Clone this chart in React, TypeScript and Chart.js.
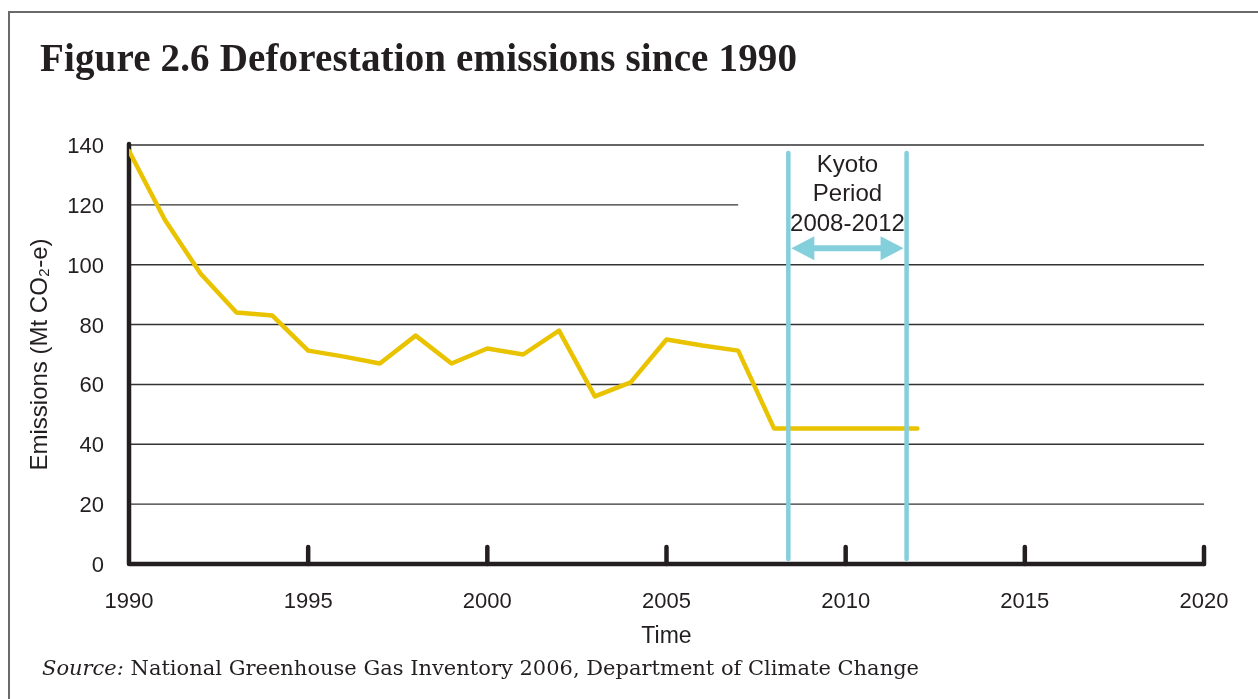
import React, { useEffect, useRef } from 'react';
import { Chart, registerables } from 'chart.js';

Chart.register(...registerables);

// ---- data ----
const years = [1990, 1991, 1992, 1993, 1994, 1995, 1996, 1997, 1998, 1999, 2000, 2001, 2002, 2003, 2004, 2005, 2006, 2007, 2008, 2009, 2010, 2011, 2012];
const emissions = [138, 115, 97, 84, 83, 71.3, 69.3, 67, 76.3, 67, 72, 70, 78, 56, 60.7, 75, 73, 71.3, 45.3, 45.3, 45.3, 45.3, 45.3];
const xMin = 1990;
const xMax = 2020;
const xStep = 5;
const yMin = 0;
const yMax = 140;
const yStep = 20;
const kyotoStart = 2008.4;
const kyotoEnd = 2011.7;
const kyotoArrowValue = 105.5;
const kyotoText = ['Kyoto', 'Period', '2008-2012'];
const shortGridValue = 120;
const shortGridEndYear = 2007;

const titleText = 'Figure 2.6 Deforestation emissions since 1990';
const yTitle = 'Emissions (Mt CO\u2082-e)';
const xTitle = 'Time';
const sourceLabel = 'Source:';
const sourceText = ' National Greenhouse Gas Inventory 2006, Department of Climate Change';

const INK = '#231f20';
const YELLOW = '#eac300';
const CYAN = '#84cfdc';
const SANS = '"Liberation Sans", Arial, sans-serif';

const decor = {
  id: 'decor',
  beforeDatasetsDraw(chart: any) {
    const { ctx, scales } = chart;
    const x = scales.x;
    const y = scales.y;
    ctx.save();
    ctx.strokeStyle = '#333333';
    ctx.lineWidth = 1.4;
    for (let v = yMin + yStep; v <= yMax; v += yStep) {
      const py = y.getPixelForValue(v);
      const xEnd = v === shortGridValue ? x.getPixelForValue(shortGridEndYear) : x.right;
      ctx.beginPath();
      ctx.moveTo(x.left, py);
      ctx.lineTo(xEnd, py);
      ctx.stroke();
    }
    ctx.strokeStyle = INK;
    ctx.lineWidth = 4.5;
    ctx.lineCap = 'round';
    ctx.lineJoin = 'round';
    const x0 = x.left;
    const y0 = y.getPixelForValue(yMin);
    ctx.beginPath();
    ctx.moveTo(x0, y.getPixelForValue(yMax) - 1);
    ctx.lineTo(x0, y0);
    ctx.lineTo(x.getPixelForValue(xMax), y0);
    ctx.stroke();
    for (let v = xMin + xStep; v <= xMax; v += xStep) {
      const px = x.getPixelForValue(v);
      ctx.beginPath();
      ctx.moveTo(px, y0);
      ctx.lineTo(px, y0 - 17);
      ctx.stroke();
    }
    ctx.restore();
  },
  afterDatasetsDraw(chart: any) {
    const { ctx, scales } = chart;
    const x = scales.x;
    const y = scales.y;
    const xa = x.getPixelForValue(kyotoStart);
    const xb = x.getPixelForValue(kyotoEnd);
    const top = y.getPixelForValue(yMax) + 8;
    const bottom = y.getPixelForValue(yMin) - 5;
    ctx.save();
    ctx.strokeStyle = CYAN;
    ctx.lineWidth = 4.5;
    ctx.lineCap = 'round';
    [xa, xb].forEach((px) => {
      ctx.beginPath();
      ctx.moveTo(px, top);
      ctx.lineTo(px, bottom);
      ctx.stroke();
    });
    ctx.lineCap = 'butt';
    // arrow
    const ay = y.getPixelForValue(kyotoArrowValue);
    const l = xa + 3;
    const r = xb - 3;
    const hl = 23;
    const hh = 12;
    ctx.fillStyle = CYAN;
    ctx.fillRect(l + hl - 1, ay - 3, r - l - 2 * hl + 2, 6);
    ctx.beginPath();
    ctx.moveTo(l, ay);
    ctx.lineTo(l + hl, ay - hh);
    ctx.lineTo(l + hl, ay + hh);
    ctx.closePath();
    ctx.fill();
    ctx.beginPath();
    ctx.moveTo(r, ay);
    ctx.lineTo(r - hl, ay - hh);
    ctx.lineTo(r - hl, ay + hh);
    ctx.closePath();
    ctx.fill();
    // label
    ctx.fillStyle = INK;
    ctx.font = '24px ' + SANS;
    ctx.textAlign = 'center';
    ctx.textBaseline = 'middle';
    const cx = (xa + xb) / 2;
    const t0 = y.getPixelForValue(yMax);
    kyotoText.forEach((s, i) => {
      ctx.fillText(s, cx, t0 + 20 + i * 29.5);
    });
    ctx.restore();
  },
};

function ChartCanvas() {
  const ref = useRef<HTMLCanvasElement | null>(null);
  useEffect(() => {
    if (!ref.current) return;
    const points = years.map((yr, i) => ({ x: yr, y: emissions[i] }));
    const chart = new Chart(ref.current, {
      type: 'line',
      data: {
        datasets: [
          {
            label: 'Emissions',
            data: points,
            borderColor: YELLOW,
            backgroundColor: YELLOW,
            borderWidth: 4.5,
            pointRadius: 0,
            tension: 0,
            borderCapStyle: 'round',
            borderJoinStyle: 'round',
            fill: false,
          },
        ],
      },
      options: {
        animation: false,
        responsive: false,
        maintainAspectRatio: false,
        layout: { padding: { left: 0, top: 145, right: 54, bottom: 49 } },
        plugins: {
          legend: { display: false },
          tooltip: { enabled: false },
          title: { display: false },
        },
        scales: {
          x: {
            type: 'linear',
            min: xMin,
            max: xMax,
            grid: { display: false, drawTicks: false },
            border: { display: false },
            ticks: {
              stepSize: xStep,
              autoSkip: false,
              maxRotation: 0,
              padding: 25,
              color: INK,
              font: { family: SANS, size: 22 },
              callback: (v: any) => String(v),
            },
            title: {
              display: true,
              text: xTitle,
              color: INK,
              font: { family: SANS, size: 23 },
              padding: { top: 0, bottom: 0 },
            },
            afterFit: (s: any) => {
              s.height = 86;
            },
          },
          y: {
            type: 'linear',
            min: yMin,
            max: yMax,
            grid: { display: false, drawTicks: false },
            border: { display: false },
            ticks: {
              stepSize: yStep,
              padding: 25,
              labelOffset: 2,
              color: INK,
              font: { family: SANS, size: 22 },
            },
            title: {
              display: true,
              text: yTitle,
              color: INK,
              font: { family: SANS, size: 24 },
              padding: { top: 26, bottom: 0 },
            },
            afterFit: (s: any) => {
              s.width = 129;
            },
          },
        },
      },
      plugins: [decor],
    });
    return () => chart.destroy();
  }, []);
  return <canvas ref={ref} width={1258} height={699} style={{ position: 'absolute', left: 0, top: 0, display: 'block' }} />;
}

export default function App() {
  return (
    <div style={{ position: 'fixed', left: 0, top: 0, width: 1258, height: 699, background: '#ffffff', overflow: 'hidden' }}>
      <div style={{ position: 'absolute', left: 8, top: 11, width: 1300, height: 800, borderLeft: '2px solid #6a6a6a', borderTop: '2px solid #6a6a6a' }} />
      <ChartCanvas />
      <div
        style={{
          position: 'absolute',
          left: 40,
          top: 38,
          fontFamily: '"Liberation Serif", "Times New Roman", serif',
          fontWeight: 'bold',
          fontSize: 39,
          lineHeight: '39px',
          letterSpacing: '0.15px',
          color: INK,
          whiteSpace: 'nowrap',
        }}
      >
        {titleText}
      </div>
      <div
        style={{
          position: 'absolute',
          left: 42,
          top: 658,
          fontFamily: '"DejaVu Serif", serif',
          fontSize: 21,
          lineHeight: '21px',
          color: INK,
          whiteSpace: 'nowrap',
        }}
      >
        <span style={{ fontStyle: 'italic' }}>{sourceLabel}</span>
        {sourceText}
      </div>
    </div>
  );
}
